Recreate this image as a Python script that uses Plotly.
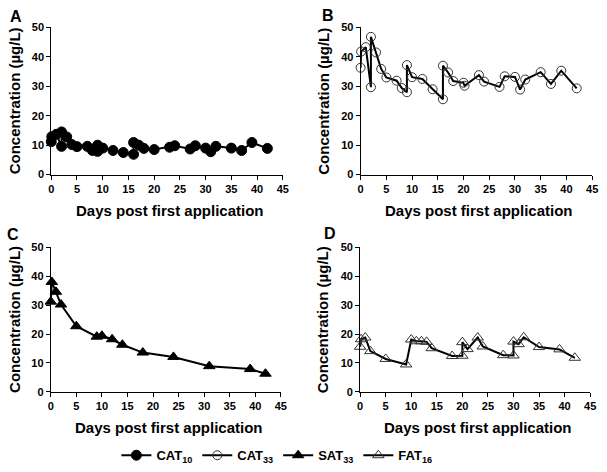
import plotly.graph_objects as go

# ---- data ----
days_A = [0, 0.1, 1, 2, 2, 3, 4, 5, 7, 8, 9, 9, 10, 12, 14, 16, 16, 17, 18, 20, 23, 24, 27, 28, 30, 31, 32, 35, 37, 39, 42]
cat10 = [11.2, 12.9, 13.7, 9.6, 14.5, 12.8, 10.2, 9.5, 9.6, 8.2, 10.0, 7.9, 9.0, 8.2, 7.5, 6.9, 10.9, 10.0, 8.9, 8.5, 9.3, 9.8, 8.7, 9.8, 9.0, 7.8, 9.6, 9.0, 8.2, 10.9, 8.9]

days_B = [0, 0.1, 1, 2, 2, 3, 4, 5, 7, 8, 9, 9, 10, 12, 14, 16, 16, 17, 18, 20, 20.2, 23, 24, 27, 28, 30, 31, 32, 35, 37, 39, 42]
cat33 = [36.3, 41.8, 43.3, 29.7, 46.8, 41.5, 35.9, 33.0, 31.9, 29.4, 28.0, 37.2, 33.1, 32.5, 29.0, 25.6, 37.0, 34.7, 31.8, 31.2, 30.2, 33.8, 31.6, 29.8, 33.4, 33.2, 28.9, 32.3, 34.8, 30.8, 35.3, 29.3]

days_C = [0, 0.2, 1, 2, 5, 9, 10, 12, 14, 18, 24, 31, 39, 42]
sat33 = [31.2, 38.0, 34.6, 30.2, 22.7, 19.1, 19.4, 18.2, 16.3, 13.6, 12.1, 8.9, 7.9, 6.3]

days_D = [0, 0.2, 1, 2, 5, 9, 10, 11, 12, 13, 14, 18, 20, 20, 21, 23, 24, 28, 30, 30, 31, 32, 35, 39, 42]
fat16 = [15.6, 18.2, 18.8, 14.1, 11.4, 9.5, 18.1, 17.5, 17.5, 17.3, 15.1, 12.4, 12.5, 17.2, 14.8, 18.8, 15.7, 12.7, 12.6, 17.4, 16.5, 18.9, 15.5, 14.7, 11.8]

series_names = ["CAT<sub>10</sub>", "CAT<sub>33</sub>", "SAT<sub>33</sub>", "FAT<sub>16</sub>"]
panel_letters = ["A", "B", "C", "D"]
x_ticks = [0, 5, 10, 15, 20, 25, 30, 35, 40, 45]
y_ticks = [0, 10, 20, 30, 40, 50]
x_title = "Days post first application"
y_title = "Concentration (µg/L)"

W, H = 607, 472
FONT = "Arial, Liberation Sans, sans-serif"


def px(x):
    return x / W


def py(y):
    return 1 - y / H


fig = go.Figure()

# panel pixel boxes in page coords: (left, right, top, bottom)
boxes = [(49, 284, 22, 173), (363, 598, 22, 173), (48.5, 282, 247.5, 396), (362.5, 596, 247.5, 396)]

markers = [
    dict(symbol="circle", size=10, color="black", line=dict(color="black", width=1)),
    dict(symbol="circle-open", size=9, color="#333333", line=dict(color="#333333", width=1)),
    dict(symbol="triangle-up", size=10, color="black", line=dict(color="black", width=1)),
    dict(symbol="triangle-up-open", size=10, color="#333333", line=dict(color="#333333", width=1)),
]
xs = [days_A, days_B, days_C, days_D]
ys = [cat10, cat33, sat33, fat16]

for i in range(4):
    sfx = "" if i == 0 else str(i + 1)
    fig.add_trace(go.Scatter(
        x=xs[i], y=ys[i], mode="lines+markers", name=series_names[i],
        xaxis="x" + sfx, yaxis="y" + sfx,
        line=dict(color="black", width=2), marker=markers[i], cliponaxis=False,
    ))
    l, r, t, b = boxes[i]
    axcommon = dict(showgrid=False, zeroline=False, showline=True, linecolor="black", linewidth=1,
                    ticks="outside", ticklen=4, tickwidth=1, tickcolor="black",
                    tickfont=dict(family=FONT, size=11, color="black", weight="bold"))
    fig.update_layout(**{
        "xaxis" + sfx: dict(domain=[px(l), px(r)], range=[0, 45], tickvals=x_ticks,
                            anchor="y" + sfx, **axcommon),
        "yaxis" + sfx: dict(domain=[py(b), py(t)], range=[0, 50], tickvals=y_ticks,
                            anchor="x" + sfx, **axcommon),
    })
    # axis titles
    fig.add_annotation(x=px((l + r) / 2 + 3), y=py(209.5 if i < 2 else 433),
                       xref="paper", yref="paper", text=x_title, showarrow=False,
                       font=dict(family=FONT, size=15, color="black", weight="bold"),
                       xanchor="center", yanchor="middle")
    fig.add_annotation(x=px(11.5 if i % 2 == 0 else 324.5), y=py((t + b) / 2),
                       xref="paper", yref="paper", text=y_title, showarrow=False, textangle=-90,
                       font=dict(family=FONT, size=15, color="black", weight="bold"),
                       xanchor="center", yanchor="middle")
    lx, ly = [(13, 11), (330, 10), (10, 234), (332, 233)][i]
    fig.add_annotation(x=px(lx), y=py(ly), xref="paper", yref="paper", text=panel_letters[i],
                       showarrow=False, font=dict(family=FONT, size=16, color="black", weight="bold"),
                       xanchor="center", yanchor="middle")

fig.update_layout(
    width=W, height=H, margin=dict(l=0, r=0, t=0, b=0),
    paper_bgcolor="white", plot_bgcolor="white",
    showlegend=True,
    legend=dict(orientation="h", x=px(278), xanchor="center", y=py(461), yanchor="middle",
                itemwidth=30, font=dict(family=FONT, size=13, color="black", weight="bold"),
                tracegroupgap=0, bgcolor="rgba(0,0,0,0)"),
)

fig.write_html("out.html", config={"displayModeBar": False},
               post_script="document.body.style.margin='0';")
